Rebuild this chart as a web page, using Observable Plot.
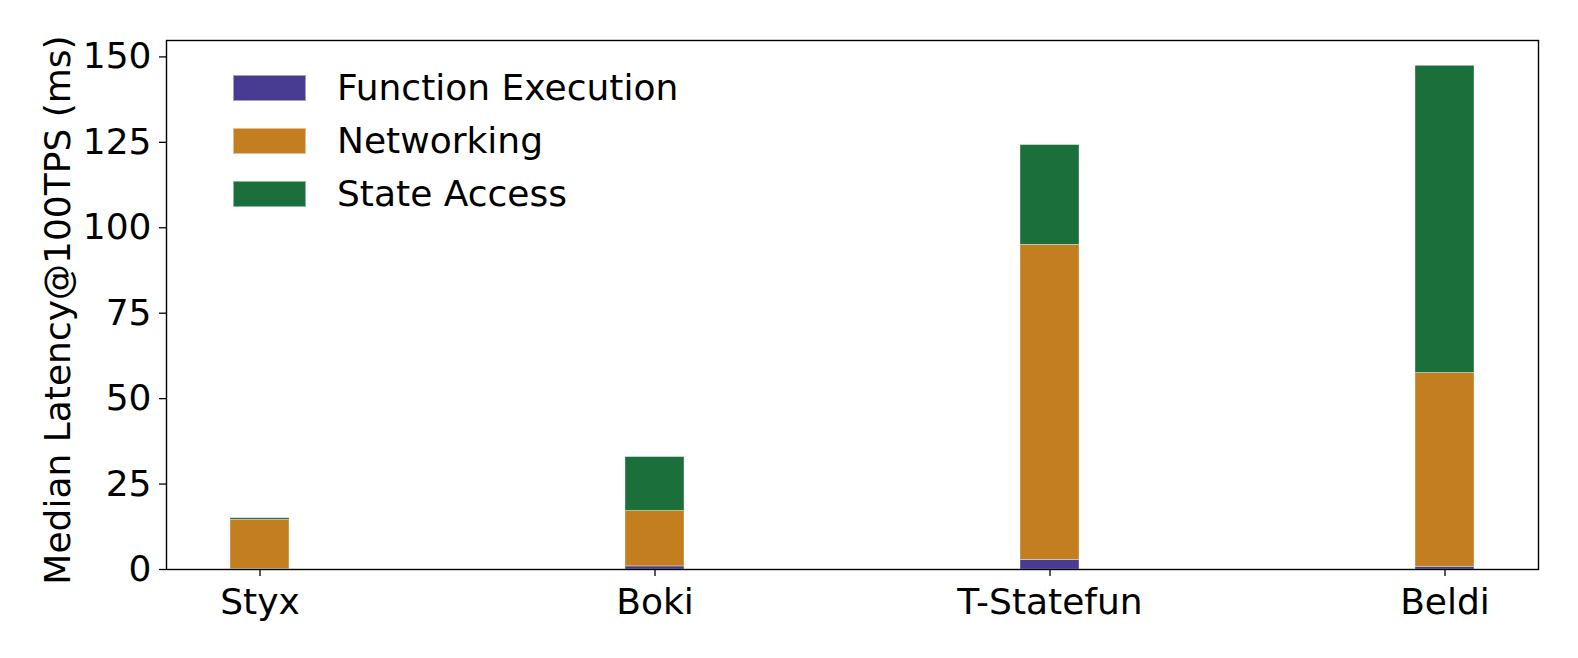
<!DOCTYPE html>
<html>
<head>
<meta charset="utf-8">
<script src="https://cdn.jsdelivr.net/npm/d3@7"></script>
<script src="https://cdn.jsdelivr.net/npm/@observablehq/plot@0.6"></script>
<style>
  body { margin: 0; background: #fff; }
  #wrap { position: relative; width: 1578px; height: 658px; font-family: "DejaVu Sans", sans-serif; }
  #legend { position: absolute; left: 233px; top: 61px; }
  .row { display: flex; align-items: center; height: 53.4px; }
  .sw { width: 73px; height: 26px; box-sizing: border-box; border: 1px solid rgba(255,255,255,0.5); }
  .lab { margin-left: 31px; font-size: 36px; color: #000; line-height: 1; }
</style>
</head>
<body>
<div id="wrap"></div>
<script>
const systems = ["Styx", "Boki", "T-Statefun", "Beldi"];
const components = ["Function Execution", "Networking", "State Access"];
const functionExecution = [0.1, 0.9, 2.8, 0.8];
const networking = [14.4, 16.2, 92.2, 56.7];
const stateAccess = [0.5, 15.8, 29.2, 89.9];
const colors = ["#483C92", "#C37E20", "#1B6F3A"];
const yTicks = [0, 25, 50, 75, 100, 125, 150];
const yLabel = "Median Latency@100TPS (ms)";

const series = [functionExecution, networking, stateAccess];
const data = [];
systems.forEach((s, i) => components.forEach((c, j) => data.push({system: s, component: c, value: series[j][i]})));

const chart = Plot.plot({
  width: 1578,
  height: 658,
  marginLeft: 166,
  marginRight: 40,
  marginTop: 40,
  marginBottom: 89,
  style: {fontFamily: "DejaVu Sans", fontSize: "36px", color: "black", background: "white"},
  x: {domain: systems, paddingInner: 0.85, paddingOuter: 0.1575, align: 0.5},
  y: {domain: [0, 154.8]},
  color: {domain: components, range: colors},
  marks: [
    Plot.barY(data, Plot.stackY({x: "system", y: "value", fill: "component", stroke: "white", strokeWidth: 0.6, strokeOpacity: 0.6})),
    Plot.axisX({fontSize: 36, tickSize: 7, tickPadding: 12, label: null, strokeWidth: 1.3}),
    Plot.axisY({ticks: yTicks, tickSize: 7, tickPadding: 8, label: null, fontSize: 36, strokeWidth: 1.3}),
    Plot.frame({stroke: "black", strokeWidth: 1.4}),
    Plot.text([yLabel], {frameAnchor: "left", dx: -108, dy: 5, rotate: -90, fontSize: 36, textAnchor: "middle", lineAnchor: "middle", fill: "black"})
  ]
});

const wrap = document.getElementById("wrap");
wrap.appendChild(chart);

const legend = document.createElement("div");
legend.id = "legend";
components.forEach((c, j) => {
  const row = document.createElement("div");
  row.className = "row";
  const sw = document.createElement("div");
  sw.className = "sw";
  sw.style.background = colors[j];
  const lab = document.createElement("span");
  lab.className = "lab";
  lab.textContent = c;
  row.appendChild(sw);
  row.appendChild(lab);
  legend.appendChild(row);
});
wrap.appendChild(legend);
</script>
</body>
</html>
